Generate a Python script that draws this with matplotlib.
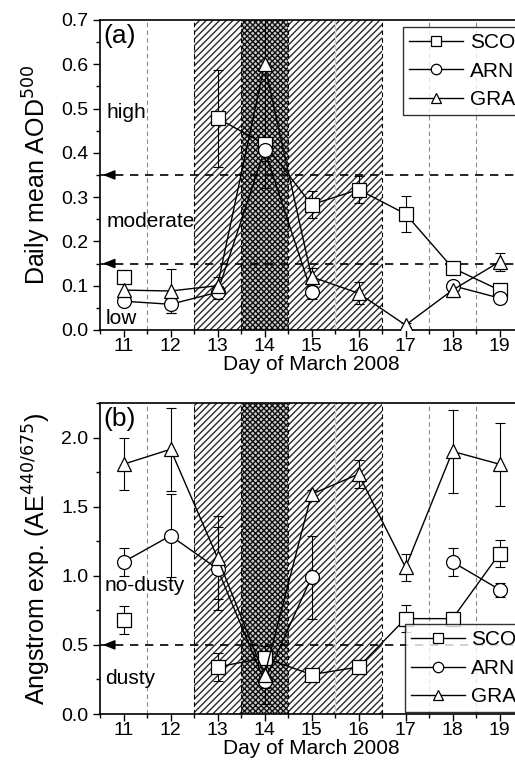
import numpy as np
import matplotlib
matplotlib.use("Agg")
import matplotlib.pyplot as plt
from matplotlib.ticker import MultipleLocator

plt.rcParams['font.family'] = ['Liberation Sans', 'DejaVu Sans']
plt.rcParams['hatch.linewidth'] = 1.0

nan = np.nan
days = [11, 12, 13, 14, 15, 16, 17, 18, 19]
series = ["SCO", "ARN", "GRA"]

# Panel (a): daily mean AOD500
sco_aod = [0.12, nan, 0.478, 0.42, 0.283, 0.317, 0.262, 0.14, 0.09]
sco_aod_err = [0.01, nan, 0.11, 0.01, 0.03, 0.03, 0.04, 0.01, 0.01]
arn_aod = [0.065, 0.058, 0.085, 0.406, 0.085, nan, nan, 0.10, 0.072]
arn_aod_err = [0.005, 0.02, 0.015, 0.025, 0.015, nan, nan, 0.01, 0.01]
gra_aod = [0.09, 0.088, 0.10, 0.60, 0.12, 0.083, 0.011, 0.09, 0.154]
gra_aod_err = [0.015, 0.05, 0.02, 0.28, 0.02, 0.025, 0.005, 0.015, 0.02]

# Panel (b): Angstrom exponent 440/675
sco_ae = [0.68, nan, 0.34, 0.406, 0.285, 0.34, 0.69, 0.69, 1.16]
sco_ae_err = [0.1, nan, 0.1, 0.05, 0.03, 0.05, 0.1, 0.05, 0.1]
arn_ae = [1.10, 1.29, 1.05, 0.237, 0.99, nan, nan, 1.10, 0.90]
arn_ae_err = [0.1, 0.3, 0.3, 0.05, 0.3, nan, nan, 0.1, 0.05]
gra_ae = [1.807, 1.915, 1.13, 0.28, 1.59, 1.735, 1.06, 1.90, 1.807]
gra_ae_err = [0.19, 0.3, 0.3, 0.21, 0.03, 0.1, 0.1, 0.3, 0.3]

aod_thresholds = [0.35, 0.15]
ae_threshold = [0.5]

markers = ['s', 'o', '^']

fig = plt.figure(figsize=(5.15, 7.67), dpi=100)
ax1 = fig.add_axes([0.1942, 0.5698, 0.8214, 0.4042])
ax2 = fig.add_axes([0.1942, 0.0691, 0.8214, 0.4055])


def decorate(ax, ymax, ymajor, thresholds):
    ax.set_xlim(10.5, 19.5)
    ax.set_ylim(0, ymax)
    # shaded dust periods
    ax.axvspan(12.5, 13.5, facecolor='white', edgecolor='#2a2a2a', hatch='/////', lw=0, zorder=0)
    ax.axvspan(13.5, 14.5, facecolor='#cfcfcf', edgecolor='#111111', hatch='xxxxxx', lw=0, zorder=0)
    ax.axvspan(14.5, 15.5, facecolor='white', edgecolor='#2a2a2a', hatch='/////', lw=0, zorder=0)
    ax.axvspan(15.5, 16.5, facecolor='white', edgecolor='#2a2a2a', hatch='/////', lw=0, zorder=0)
    for xv in [12.5, 13.5, 14.5, 16.5]:
        ax.axvline(xv, color='black', ls=(0, (4, 3)), lw=0.8, zorder=1)
    for xv in [11.5, 17.5, 18.5]:
        ax.axvline(xv, color='#888888', ls=(0, (4, 3)), lw=0.8, zorder=1)
    ax.axvline(15.5, color='#cccccc', ls='-', lw=1.0, zorder=1)
    for yv in thresholds:
        ax.axhline(yv, color='black', ls=(0, (5, 4)), lw=1.2, zorder=2)
        ax.annotate('', xy=(10.5, yv), xytext=(10.75, yv),
                    arrowprops=dict(arrowstyle='-|>,head_length=0.7,head_width=0.28',
                                    color='black', lw=1.2), zorder=3)
    ax.set_xticks(days)
    ax.set_xticks([d + 0.5 for d in [10] + days[:-1]], minor=True)
    ax.yaxis.set_major_locator(MultipleLocator(ymajor))
    ax.yaxis.set_minor_locator(MultipleLocator(ymajor / 2))
    ax.tick_params(which='both', direction='out', top=False, right=False, labelsize=14)
    ax.tick_params(axis='x', which='both', pad=1)
    ax.tick_params(which='major', length=5, width=1)
    ax.tick_params(which='minor', length=3, width=1)
    ax.set_xlabel('Day of March 2008', fontsize=15, labelpad=0)
    for sp in ax.spines.values():
        sp.set_linewidth(1.2)


def plot_series(ax, values, errs):
    handles = []
    for name, vals, err, mk in zip(series, values, errs, markers):
        ax.errorbar(days, vals, yerr=err, fmt='none', ecolor='black', elinewidth=0.8,
                    capsize=3.5, capthick=0.8, zorder=4)
        h, = ax.plot(days, vals, color='black', lw=1, marker=mk, markersize=10,
                     markerfacecolor='white', markeredgecolor='black', markeredgewidth=0.9,
                     label=name, zorder=5)
        handles.append(h)
    return handles


decorate(ax1, 0.7, 0.1, aod_thresholds)
ax1.yaxis.set_major_formatter(matplotlib.ticker.FormatStrFormatter('%.1f'))
h1 = plot_series(ax1, [sco_aod, arn_aod, gra_aod], [sco_aod_err, arn_aod_err, gra_aod_err])
ax1.set_ylabel('Daily mean AOD$^{500}$', fontsize=18, labelpad=6)
ax1.text(10.57, 0.69, '(a)', fontsize=19, va='top', ha='left')
ax1.text(10.63, 0.49, 'high', fontsize=15, va='center')
ax1.text(10.63, 0.245, 'moderate', fontsize=15, va='center')
ax1.text(10.63, 0.026, 'low', fontsize=15, va='center')
leg1 = ax1.legend(handles=h1, loc='upper left', bbox_to_anchor=(0.716, 0.977),
                  fontsize=15, frameon=True, fancybox=False, edgecolor='black',
                  handlelength=2.6, handletextpad=0.3, borderpad=0.3, labelspacing=0.45,
                  markerscale=0.75, borderaxespad=0)
leg1.get_frame().set_linewidth(1)
leg1.set_zorder(10)

decorate(ax2, 2.25, 0.5, ae_threshold)
ax2.yaxis.set_major_formatter(matplotlib.ticker.FormatStrFormatter('%.1f'))
h2 = plot_series(ax2, [sco_ae, arn_ae, gra_ae], [sco_ae_err, arn_ae_err, gra_ae_err])
ax2.set_ylabel('Angstrom exp. (AE$^{440/675}$)', fontsize=18, labelpad=6)
ax2.text(10.57, 2.22, '(b)', fontsize=19, va='top', ha='left')
ax2.text(10.6, 0.93, 'no-dusty', fontsize=15, va='center')
ax2.text(10.6, 0.26, 'dusty', fontsize=15, va='center')
leg2 = ax2.legend(handles=h2, loc='lower left', bbox_to_anchor=(0.72, 0.005),
                  fontsize=15, frameon=True, fancybox=False, edgecolor='black',
                  handlelength=2.6, handletextpad=0.3, borderpad=0.3, labelspacing=0.45,
                  markerscale=0.75, borderaxespad=0)
leg2.get_frame().set_linewidth(1)
leg2.set_zorder(10)

fig.savefig('out.png', dpi=100)
